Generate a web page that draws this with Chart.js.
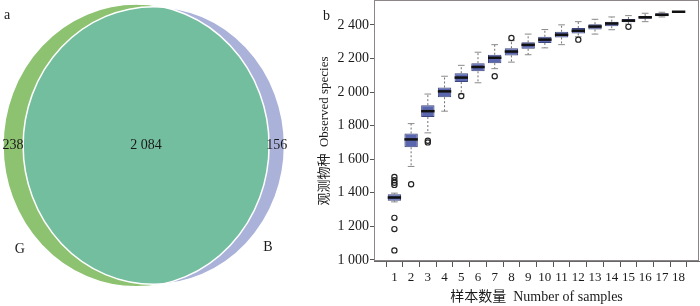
<!DOCTYPE html>
<html>
<head>
<meta charset="utf-8">
<script src="https://cdn.jsdelivr.net/npm/chart.js@4"></script>
<style>
  html, body { margin: 0; padding: 0; background: #ffffff; }
  #wrap { position: relative; width: 700px; height: 306px; overflow: hidden; }
  #venn { position: absolute; left: 0; top: 0; }
  #box { position: absolute; left: 300px; top: 0; }
</style>
</head>
<body>
<div id="wrap">
  <canvas id="venn" width="300" height="306"></canvas>
  <canvas id="box" width="400" height="306"></canvas>
</div>
<script>
// ---------- data: panel a (Venn) ----------
const vennSets = ['G', 'B'];
const vennOnly = [238, 156];
const vennShared = 2084;

// ---------- data: panel b (rarefaction boxplot) ----------
const sampleNumbers = [1, 2, 3, 4, 5, 6, 7, 8, 9, 10, 11, 12, 13, 14, 15, 16, 17, 18];
const whiskerLow  = [1346, 1557, 1757, 1886, 1988, 2055, 2139, 2178, 2222, 2263, 2282, 2329, 2345, 2371, 2404, 2419, 2447, 2478];
const boxQ1       = [1353, 1671, 1851, 1969, 2059, 2123, 2172, 2218, 2257, 2292, 2325, 2349, 2372, 2392, 2416, 2437, 2451, 2478];
const boxMedian   = [1372, 1718, 1886, 2004, 2086, 2149, 2204, 2241, 2281, 2312, 2341, 2365, 2390, 2408, 2425, 2445, 2460, 2478];
const boxQ3       = [1392, 1753, 1922, 2027, 2112, 2172, 2222, 2261, 2296, 2329, 2359, 2381, 2404, 2419, 2435, 2453, 2469, 2478];
const whiskerHigh = [1398, 1812, 1988, 2094, 2159, 2237, 2282, 2306, 2345, 2372, 2400, 2419, 2433, 2447, 2455, 2469, 2475, 2478];
const outlierSample = [1, 1, 1, 1, 1, 1, 1, 2, 3, 3, 5, 7, 8, 12, 15];
const outlierValue  = [1494, 1475, 1460, 1447, 1251, 1184, 1057, 1451, 1700, 1710, 1976, 2094, 2322, 2312, 2388];
const yTickValues = [1000, 1200, 1400, 1600, 1800, 2000, 2200, 2400];

const yTitle = '观测物种  Observed species';
const xTitle = '样本数量  Number of samples';

const SERIF = "'Liberation Serif', 'Times New Roman', 'Noto Sans CJK SC', serif";
const fmt = n => String(n).replace(/\B(?=(\d{3})+(?!\d))/g, ' ');

// ---------- Venn geometry from the counts (area-proportional) ----------
const totals = [vennOnly[0] + vennShared, vennOnly[1] + vennShared];
const radii = totals.map(t => Math.sqrt(t / Math.PI));
function lensArea(r1, r2, d) {
  if (d >= r1 + r2) return 0;
  if (d <= Math.abs(r1 - r2)) return Math.PI * Math.min(r1, r2) ** 2;
  const a = r1 * r1 * Math.acos((d * d + r1 * r1 - r2 * r2) / (2 * d * r1));
  const b = r2 * r2 * Math.acos((d * d + r2 * r2 - r1 * r1) / (2 * d * r2));
  const c = 0.5 * Math.sqrt((-d + r1 + r2) * (d + r1 - r2) * (d - r1 + r2) * (d + r1 + r2));
  return a + b - c;
}
let lo = Math.abs(radii[0] - radii[1]), hi = radii[0] + radii[1];
for (let k = 0; k < 80; k++) {
  const mid = (lo + hi) / 2;
  if (lensArea(radii[0], radii[1], mid) > vennShared) lo = mid; else hi = mid;
}
const dist = (lo + hi) / 2;
const centers = [{x: 0, y: 0}, {x: dist, y: 0}];

const vennPlugin = {
  id: 'vennDraw',
  beforeDatasetsDraw(chart) {
    const {ctx, scales: {x, y}} = chart;
    const ell = i => {
      const c = centers[i], r = radii[i];
      return {
        cx: x.getPixelForValue(c.x), cy: y.getPixelForValue(c.y),
        rx: x.getPixelForValue(c.x + r) - x.getPixelForValue(c.x),
        ry: y.getPixelForValue(c.y) - y.getPixelForValue(c.y + r)
      };
    };
    const path = e => { ctx.beginPath(); ctx.ellipse(e.cx, e.cy, e.rx, e.ry, 0, 0, Math.PI * 2); };
    const eG = ell(0), eB = ell(1);
    ctx.save();
    path(eG); ctx.fillStyle = '#8dc270'; ctx.fill();
    path(eB); ctx.fillStyle = '#aab2da'; ctx.fill();
    ctx.save(); path(eG); ctx.clip(); path(eB); ctx.fillStyle = '#74bea0'; ctx.fill(); ctx.restore();
    ctx.strokeStyle = '#ffffff'; ctx.lineWidth = 1.5;
    path(eG); ctx.stroke(); path(eB); ctx.stroke();

    ctx.fillStyle = '#1a1a1a';
    ctx.font = '14px ' + SERIF;
    ctx.textAlign = 'center'; ctx.textBaseline = 'middle';
    const gLeft = centers[0].x - radii[0], gRight = centers[0].x + radii[0];
    const bLeft = centers[1].x - radii[1], bRight = centers[1].x + radii[1];
    ctx.fillText(fmt(vennOnly[0]), x.getPixelForValue((gLeft + bLeft) / 2), y.getPixelForValue(0));
    ctx.fillText(fmt(vennShared), x.getPixelForValue((bLeft + gRight) / 2), y.getPixelForValue(0));
    ctx.fillText(fmt(vennOnly[1]), x.getPixelForValue((gRight + bRight) / 2), y.getPixelForValue(0));
    const ang = 40 * Math.PI / 180, f = 1.14;
    ctx.fillText(vennSets[0], x.getPixelForValue(centers[0].x - f * radii[0] * Math.cos(ang)), y.getPixelForValue(-f * radii[0] * Math.sin(ang)));
    ctx.fillText(vennSets[1], x.getPixelForValue(centers[1].x + f * radii[1] * Math.cos(ang)), y.getPixelForValue(-f * radii[1] * Math.sin(ang)));
    ctx.textAlign = 'left';
    ctx.fillText('a', 4, 15);
    ctx.restore();
  }
};

new Chart(document.getElementById('venn'), {
  type: 'scatter',
  data: { datasets: [{ data: centers, pointRadius: 0 }] },
  options: {
    responsive: false, animation: false,
    layout: { padding: 0, autoPadding: false },
    plugins: { legend: { display: false }, tooltip: { enabled: false } },
    scales: {
      x: { type: 'linear', display: false, min: -27.8, max: 33.5 },
      y: { type: 'linear', display: false, min: -30.87, max: 27.98 }
    }
  },
  plugins: [vennPlugin]
});

// ---------- boxplot ----------
const boxData = sampleNumbers.map((s, i) => ({x: s, y: [boxQ1[i], boxQ3[i]]}));
const medianData = sampleNumbers.map((s, i) => ({x: s, y: boxMedian[i]}));
const whiskerData = [];
sampleNumbers.forEach((s, i) => {
  whiskerData.push({x: s, y: boxQ3[i]}, {x: s, y: whiskerHigh[i]}, {x: s, y: null});
  whiskerData.push({x: s, y: boxQ1[i]}, {x: s, y: whiskerLow[i]}, {x: s, y: null});
});
const capData = [];
sampleNumbers.forEach((s, i) => { capData.push({x: s, y: whiskerHigh[i]}, {x: s, y: whiskerLow[i]}); });
const outlierData = outlierSample.map((s, i) => ({x: s, y: outlierValue[i]}));

const halfUnits = u => ctx => {
  const s = ctx.chart.scales.x;
  return s.getPixelForValue(1 + u) - s.getPixelForValue(1);
};

const framePlugin = {
  id: 'frame',
  afterDraw(chart) {
    const {ctx, chartArea: a} = chart;
    ctx.save();
    ctx.strokeStyle = '#8c8686'; ctx.lineWidth = 1;
    ctx.strokeRect(a.left + 0.5, a.top - 0.5, a.right - a.left - 1, a.bottom - a.top);
    ctx.fillStyle = '#1a1a1a';
    ctx.font = '14px ' + SERIF;
    ctx.textAlign = 'left'; ctx.textBaseline = 'middle';
    ctx.fillText('b', 23, 16);
    ctx.restore();
  }
};

new Chart(document.getElementById('box'), {
  type: 'bar',
  data: {
    datasets: [
      { type: 'bar', data: boxData, backgroundColor: '#5a67ae', borderColor: '#3d457e', borderWidth: 1,
        borderSkipped: false, barPercentage: 0.8, categoryPercentage: 1, order: 5 },
      { type: 'line', data: whiskerData, borderColor: '#707070', borderWidth: 1, borderDash: [2, 2],
        pointRadius: 0, spanGaps: false, order: 6 },
      { type: 'scatter', data: capData, pointStyle: 'line', pointRadius: halfUnits(0.2),
        borderColor: '#8a8a8a', borderWidth: 1, order: 4 },
      { type: 'scatter', data: medianData, pointStyle: 'line', pointRadius: halfUnits(0.4),
        borderColor: '#111111', borderWidth: 2.5, order: 2 },
      { type: 'scatter', data: outlierData, pointStyle: 'circle', pointRadius: 2.6,
        backgroundColor: 'rgba(255,255,255,0)', borderColor: '#222222', borderWidth: 1.2, order: 1 }
    ]
  },
  options: {
    responsive: false, animation: false,
    layout: { padding: { top: 1, right: 1, left: 0, bottom: 0 }, autoPadding: false },
    plugins: { legend: { display: false }, tooltip: { enabled: false } },
    scales: {
      x: {
        type: 'linear', position: 'bottom', min: -0.22, max: 19.22, offset: false,
        afterBuildTicks: s => { s.ticks = sampleNumbers.map(v => ({value: v})); },
        afterFit: s => { s.height = 45; s.paddingLeft = 0; s.paddingRight = 0; },
        grid: { display: true, drawOnChartArea: false, drawTicks: true, tickLength: 6, color: '#555555' },
        border: { display: true, color: '#666666' },
        ticks: { autoSkip: false, maxRotation: 0, padding: 3, color: '#1a1a1a',
                 font: { family: SERIF, size: 13 }, callback: v => String(v) },
        title: { display: true, text: xTitle, color: '#1a1a1a', font: { family: SERIF, size: 14 },
                 padding: { top: 0, bottom: 0 } }
      },
      y: {
        type: 'linear', min: 994, max: 2542,
        afterBuildTicks: s => { s.ticks = yTickValues.map(v => ({value: v})); },
        afterFit: s => { s.width = 74; s.paddingTop = 0; s.paddingBottom = 0; },
        grid: { display: true, drawOnChartArea: false, drawTicks: true, tickLength: 4, color: '#555555' },
        border: { display: true, color: '#666666' },
        ticks: { padding: 1, color: '#1a1a1a', font: { family: SERIF, size: 14 }, callback: v => fmt(v) },
        title: { display: true, text: yTitle, color: '#1a1a1a', font: { family: SERIF, size: 13 },
                 padding: { top: 17, bottom: 0 } }
      }
    }
  },
  plugins: [framePlugin]
});
</script>
</body>
</html>
